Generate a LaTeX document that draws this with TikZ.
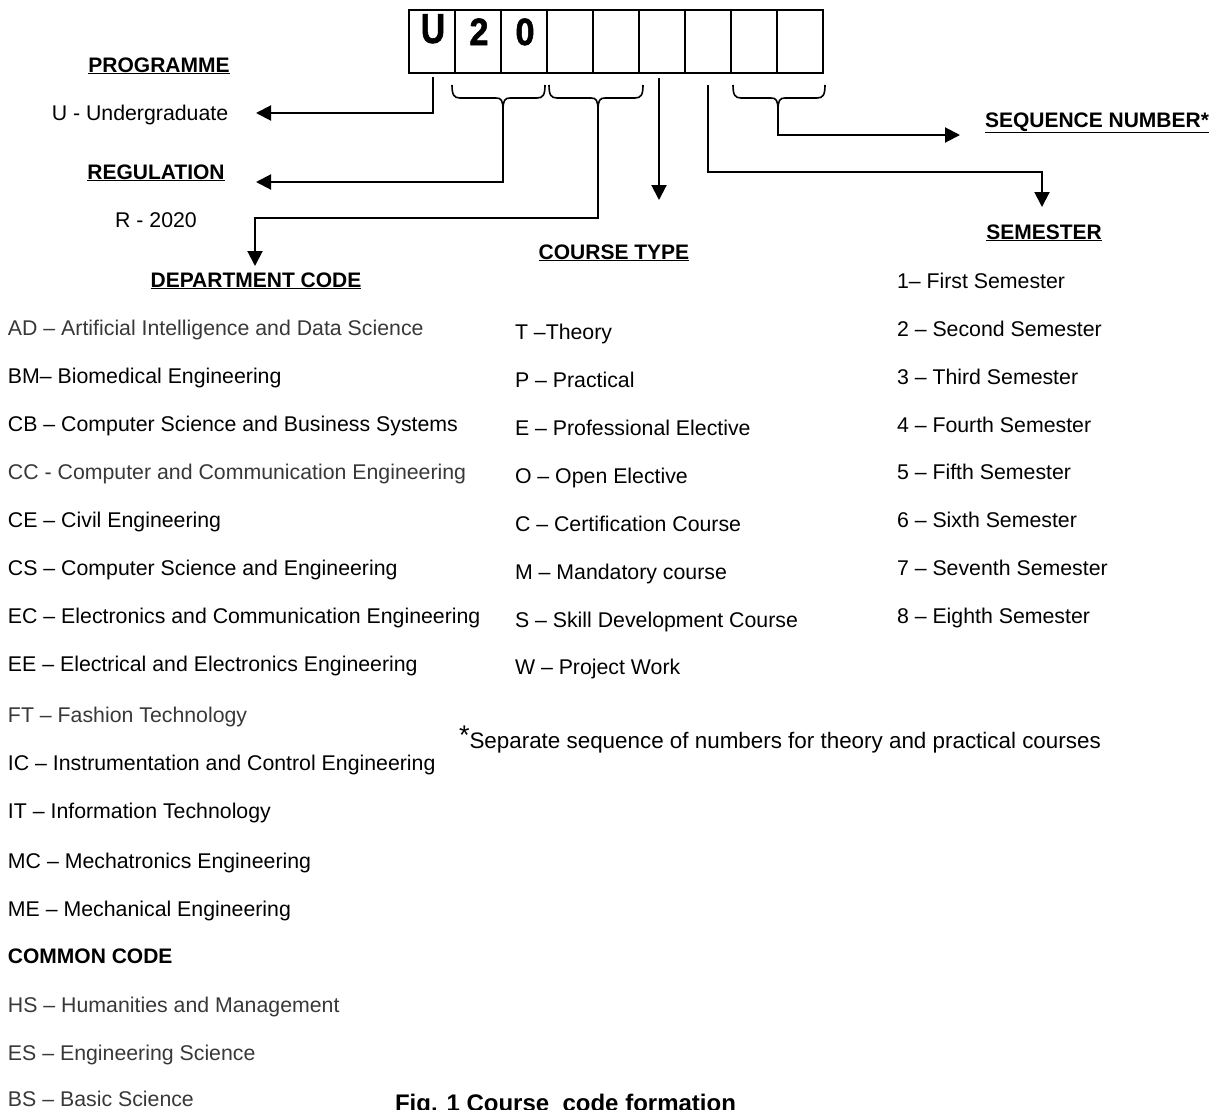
\documentclass[tikz,border=0pt]{standalone}
\usepackage{fontspec}
\usepackage{graphicx}
\setmainfont{Liberation Sans}
\newfontfamily\heavyfont{Liberation Sans Bold}[FakeBold=1.5]
\usetikzlibrary{arrows.meta}
\definecolor{txtgray}{HTML}{383838}
\begin{document}
\begin{tikzpicture}[x=1pt,y=-1pt,
  every node/.style={inner sep=0pt,outer sep=0pt},
  txt/.style={anchor=base west,font=\fontsize{21.3}{25}\selectfont},
  gtxt/.style={txt,text=txtgray},
  hdr/.style={anchor=base,font=\fontsize{21}{25}\selectfont\bfseries},
  cell/.style={draw,line width=1.8pt,minimum width=46pt,minimum height=63pt,anchor=north west},
  letter/.style={anchor=base,font=\heavyfont\fontsize{38}{40}\selectfont},
  conn/.style={line width=2pt},
  arr/.style={conn,-{Triangle[length=15pt,width=15pt]}},
  brc/.style={line width=1.6pt}
]
\useasboundingbox (0,0) rectangle (1225,1109);

% code boxes
\foreach \i in {0,...,8} {
  \node[cell] (b\i) at (409+46*\i,10) {};
}
\node[letter] (lU) at (433,43) {\scalebox{0.8}[1]{\fontsize{42}{44}\selectfont U}};
\node[letter] (l2) at (479,45) {\scalebox{0.9}[1]{2}};
\node[letter] (l0) at (525,45) {\scalebox{0.9}[1]{0}};

% braces
\draw[brc] (452,85) .. controls (452,95) and (454,98) .. (460,98) -- (496,98)
  .. controls (501,98) and (503,100) .. (503,110) .. controls (503,100) and (505,98) .. (510,98)
  -- (537,98) .. controls (543,98) and (545,95) .. (545,85);
\draw[brc] (549,85) .. controls (549,95) and (551,98) .. (557,98) -- (591,98)
  .. controls (596,98) and (598,100) .. (598,110) .. controls (598,100) and (600,98) .. (605,98)
  -- (635,98) .. controls (641,98) and (643,95) .. (643,85);
\draw[brc] (733,85) .. controls (733,95) and (735,98) .. (741,98) -- (771,98)
  .. controls (776,98) and (778,100) .. (778,110) .. controls (778,100) and (780,98) .. (785,98)
  -- (817,98) .. controls (823,98) and (825,95) .. (825,85);

\coordinate (brA) at (503,110);
\coordinate (brB) at (598,110);
\coordinate (brC) at (778,110);
\coordinate (uStart) at (433,77);
\coordinate (ctStart) at (659,78);
\coordinate (semStart) at (708,85);

% headers and labels
\node[hdr] (prog) at (159,72) {\underline{PROGRAMME}};
\node[anchor=base,font=\fontsize{21.3}{25}\selectfont] (ug) at (140,120) {U - Undergraduate};
\node[hdr] (reg) at (156,179) {\underline{REGULATION}};
\node[anchor=base,font=\fontsize{21.3}{25}\selectfont] (r2020) at (156,227) {R - 2020};
\node[hdr] (dept) at (256,287) {\underline{DEPARTMENT CODE}};
\node[hdr] (ctype) at (614,259) {\underline{COURSE TYPE}};
\node[hdr] (sem) at (1044,239) {\underline{SEMESTER}};
\node[hdr] (seq) at (1097,127) {\underline{SEQUENCE NUMBER*}};

% connectors
\coordinate (ugEnd) at (256,113);
\coordinate (regEnd) at (256,182);
\coordinate (deptEnd) at (255,266);
\coordinate (ctEnd) at (659,200);
\coordinate (semEnd) at (1042,207);
\coordinate (seqEnd) at (960,135);
\draw[arr] (uStart) |- (ugEnd);
\draw[arr] (brA) |- (regEnd);
\draw[arr] (brB) -- (598,218) -| (deptEnd);
\draw[arr] (ctStart) -- (ctEnd);
\draw[arr] (semStart) -- (708,172) -| (semEnd);
\draw[arr] (brC) |- (seqEnd);

% department list
\node[gtxt] (d1) at (8,335) {AD – Artificial Intelligence and Data Science};
\node[txt] (d2) at (8,383) {BM– Biomedical Engineering};
\node[txt] (d3) at (8,431) {CB – Computer Science and Business Systems};
\node[gtxt] (d4) at (8,479) {CC - Computer and Communication Engineering};
\node[txt] (d5) at (8,527) {CE – Civil Engineering};
\node[txt] (d6) at (8,575) {CS – Computer Science and Engineering};
\node[txt] (d7) at (8,623) {EC – Electronics and Communication Engineering};
\node[txt] (d8) at (8,671) {EE – Electrical and Electronics Engineering};
\node[gtxt] (d9) at (8,722) {FT – Fashion Technology};
\node[txt] (d10) at (8,770) {IC – Instrumentation and Control Engineering};
\node[txt] (d11) at (8,818) {IT – Information Technology};
\node[txt] (d12) at (8,868) {MC – Mechatronics Engineering};
\node[txt] (d13) at (8,916) {ME – Mechanical Engineering};
\node[anchor=base west,font=\fontsize{21}{25}\selectfont\bfseries] (cc) at (8,963) {COMMON CODE};
\node[gtxt] (c1) at (8,1012) {HS – Humanities and Management};
\node[gtxt] (c2) at (8,1060) {ES – Engineering Science};
\node[gtxt] (c3) at (8,1106) {BS – Basic Science};

% course type list
\node[txt] (t1) at (515,339) {T –Theory};
\node[txt] (t2) at (515,387) {P – Practical};
\node[txt] (t3) at (515,435) {E – Professional Elective};
\node[txt] (t4) at (515,483) {O – Open Elective};
\node[txt] (t5) at (515,531) {C – Certification Course};
\node[txt] (t6) at (515,579) {M – Mandatory course};
\node[txt] (t7) at (515,627) {S – Skill Development Course};
\node[txt] (t8) at (515,674) {W – Project Work};

% semester list
\node[txt] (s1) at (897,288) {1– First Semester};
\node[txt] (s2) at (897,336) {2 – Second Semester};
\node[txt] (s3) at (897,384) {3 – Third Semester};
\node[txt] (s4) at (897,432) {4 – Fourth Semester};
\node[txt] (s5) at (897,479) {5 – Fifth Semester};
\node[txt] (s6) at (897,527) {6 – Sixth Semester};
\node[txt] (s7) at (897,575) {7 – Seventh Semester};
\node[txt] (s8) at (897,623) {8 – Eighth Semester};

% footnote
\node[anchor=base west,font=\fontsize{22.4}{26}\selectfont] (fn) at (459,748) {\raisebox{4pt}{\fontsize{27}{27}\selectfont *}Separate sequence of numbers for theory and practical courses};

% caption
\node[anchor=base west,font=\fontsize{24}{28}\selectfont\bfseries] (cap) at (395,1111) {Fig. 1 Course\ \ code formation};
\end{tikzpicture}
\end{document}
